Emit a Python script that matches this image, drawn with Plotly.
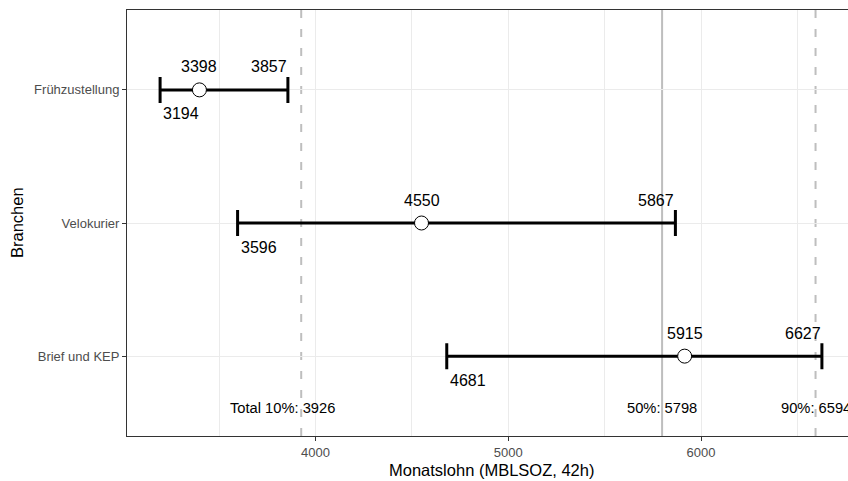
import plotly.graph_objects as go

# Monthly wage distribution per industry (MBLSOZ, 42h)
branchen = ["Brief und KEP", "Velokurier", "Frühzustellung"]
lohn_min = [4681, 3596, 3194]
lohn_median = [5915, 4550, 3398]
lohn_max = [6627, 5867, 3857]

# Overall reference percentiles
total_labels = ["Total 10%", "50%", "90%"]
total_values = [3926, 5798, 6594]
total_dash = ["8px,11px", "solid", "8px,11px"]

x_ticks = [4000, 5000, 6000]
x_minor = [3500, 4500, 5500, 6500]

FONT = "Liberation Sans, Arial, sans-serif"
W, H = 848, 481
ML, MT, MB = 127, 10, 45
PANEL_W = 728  # full panel width; the right part runs past the page edge

ypos = list(range(1, len(branchen) + 1))

lo_all, hi_all = min(lohn_min), max(lohn_max)
span = hi_all - lo_all
x_lo = lo_all - 0.05 * span
x_hi_full = hi_all + 0.05 * span
px_per_unit = PANEL_W / (x_hi_full - x_lo)
x_hi = x_lo + (W - ML) / px_per_unit

fig = go.Figure()

fig.add_trace(go.Scatter(
    x=lohn_median,
    y=ypos,
    mode="markers",
    marker=dict(symbol="circle", size=14, color="white",
                line=dict(color="black", width=1)),
    error_x=dict(
        type="data",
        symmetric=False,
        array=[mx - md for mx, md in zip(lohn_max, lohn_median)],
        arrayminus=[md - mn for md, mn in zip(lohn_median, lohn_min)],
        thickness=3,
        width=13,
        color="black",
    ),
    hoverinfo="skip",
    showlegend=False,
))

shapes = []
for val, dash in zip(total_values, total_dash):
    shapes.append(dict(
        type="line", xref="x", yref="paper", x0=val, x1=val, y0=0, y1=1,
        line=dict(color="#BEBEBE", width=2, dash=dash), layer="between",
    ))

annotations = []
lab_font = dict(family=FONT, size=16, color="black")
for y, mn, md, mx in zip(ypos, lohn_min, lohn_median, lohn_max):
    annotations.append(dict(x=md, y=y, text=str(md), showarrow=False,
                            xanchor="center", yanchor="middle", yshift=23,
                            font=lab_font))
    annotations.append(dict(x=mx, y=y, text=str(mx), showarrow=False,
                            xanchor="right", yanchor="middle", yshift=23,
                            font=lab_font, xshift=1))
    annotations.append(dict(x=mn, y=y, text=str(mn), showarrow=False,
                            xanchor="left", yanchor="middle", yshift=-24,
                            font=lab_font, xshift=1))

total_shift = [-19, 0, 0]
for lab, val, xs in zip(total_labels, total_values, total_shift):
    annotations.append(dict(x=val, y=0.6, text=f"{lab}: {val}", showarrow=False,
                            xanchor="center", yanchor="middle", xshift=xs,
                            yshift=1, font=dict(family=FONT, size=14.7, color="black")))

# axis titles, centred on the full panel
annotations.append(dict(
    xref="paper", yref="paper", x=(PANEL_W / 2) / (W - ML), y=0,
    text="Monatslohn (MBLSOZ, 42h)", showarrow=False,
    xanchor="center", yanchor="middle", yshift=-34,
    font=dict(family=FONT, size=16.5, color="black"),
))
annotations.append(dict(
    xref="paper", yref="paper", x=(17 - ML) / (W - ML), y=0.5,
    text="Branchen", showarrow=False, textangle=-90,
    xanchor="center", yanchor="middle",
    font=dict(family=FONT, size=16.5, color="black"),
))

fig.update_layout(
    width=W, height=H,
    margin=dict(l=ML, r=0, t=MT, b=MB, pad=0),
    paper_bgcolor="white", plot_bgcolor="white",
    font=dict(family=FONT),
    shapes=shapes,
    annotations=annotations,
    xaxis=dict(
        range=[x_lo, x_hi],
        tickvals=x_ticks,
        ticktext=[str(v) for v in x_ticks],
        ticks="outside", ticklen=4, tickwidth=1, tickcolor="#333333",
        tickfont=dict(family=FONT, size=13, color="#4D4D4D"),
        showgrid=True, gridcolor="#EBEBEB", gridwidth=1,
        minor=dict(tickvals=x_minor, showgrid=True, gridcolor="#EBEBEB",
                   gridwidth=0.6, ticks=""),
        showline=True, mirror=True, linecolor="#333333", linewidth=1,
        zeroline=False,
    ),
    yaxis=dict(
        range=[0.4, 3.6],
        tickvals=ypos,
        ticktext=branchen,
        ticks="outside", ticklen=4, tickwidth=1, tickcolor="#333333",
        tickfont=dict(family=FONT, size=13, color="#4D4D4D"),
        showgrid=True, gridcolor="#EBEBEB", gridwidth=1,
        showline=True, mirror=False, linecolor="#333333", linewidth=1,
        zeroline=False,
    ),
)

fig.write_html("out.html")
